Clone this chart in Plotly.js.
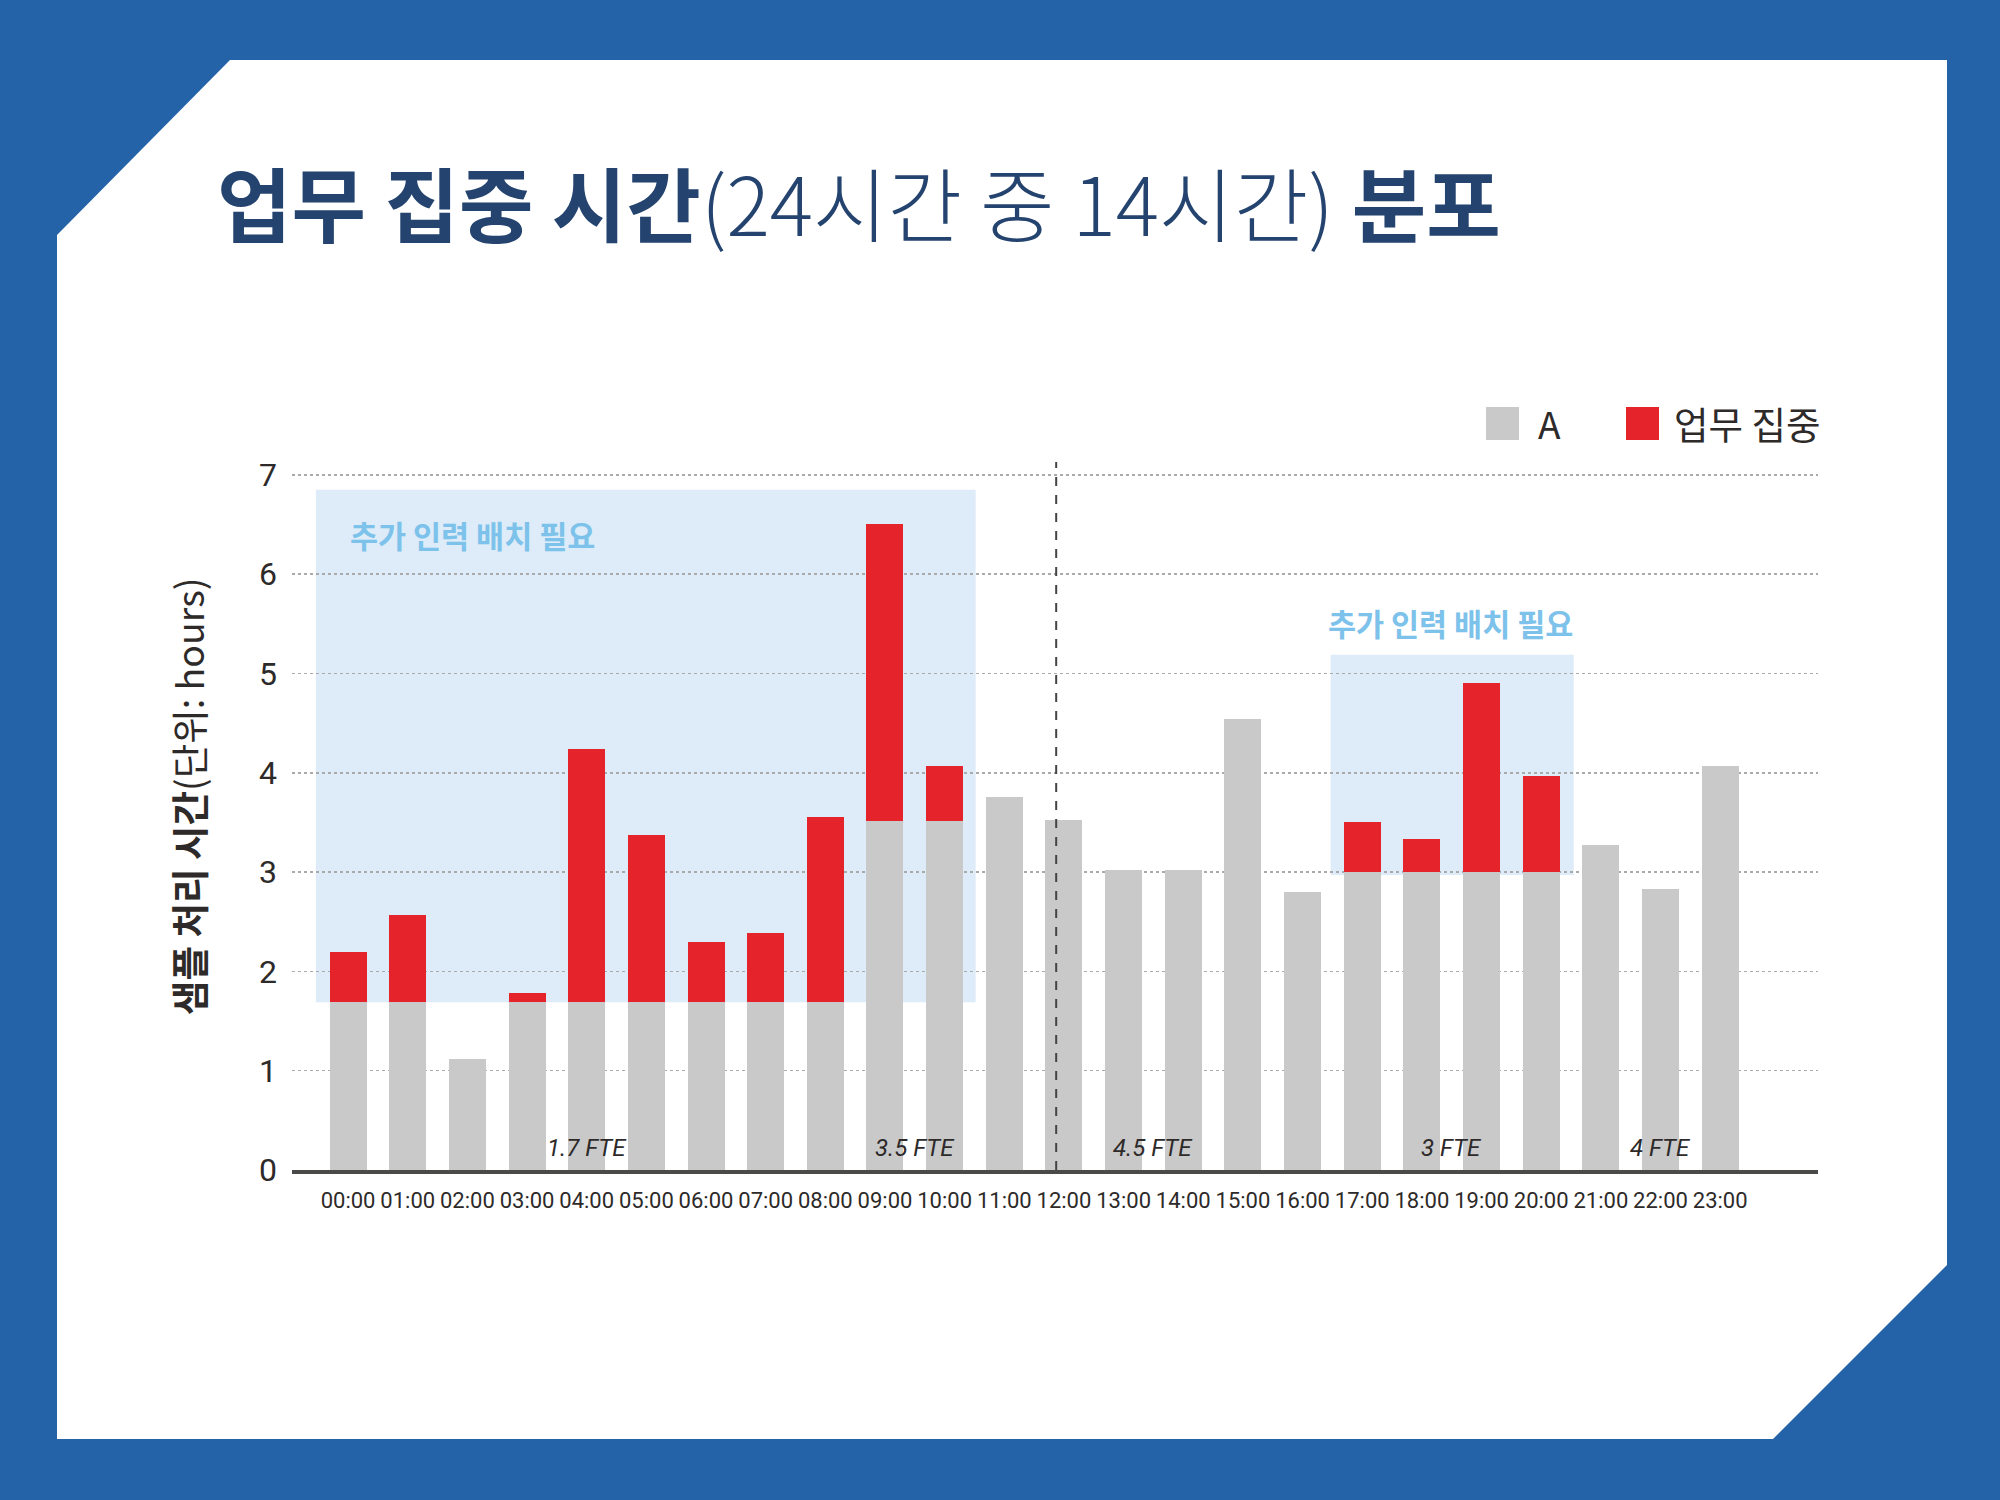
<!DOCTYPE html>
<html>
<head>
<meta charset="utf-8">
<script src="https://cdn.plot.ly/plotly-3.0.1.min.js"></script>
<style>
  html, body { margin: 0; padding: 0; background: #2563a8; width: 2000px; height: 1500px; overflow: hidden; }
  #panel { position: absolute; left: 0; top: 0; width: 2000px; height: 1500px; background: #ffffff;
    clip-path: polygon(230px 60px, 1947px 60px, 1947px 1265px, 1773px 1439px, 57px 1439px, 57px 235px); }
  #chart { position: absolute; left: 0; top: 0; width: 2000px; height: 1500px; }
</style>
</head>
<body>
<div id="panel"></div>
<div id="chart"></div>
<script>
// ---- data ----
const hours = ['00:00','01:00','02:00','03:00','04:00','05:00','06:00','07:00','08:00','09:00','10:00','11:00',
               '12:00','13:00','14:00','15:00','16:00','17:00','18:00','19:00','20:00','21:00','22:00','23:00'];
const seriesA = [1.69, 1.69, 1.12, 1.69, 1.69, 1.69, 1.69, 1.69, 1.69, 3.51, 3.51, 3.76,
                 3.52, 3.02, 3.02, 4.54, 2.80, 3.00, 3.00, 3.00, 3.00, 3.27, 2.83, 4.07];
const seriesFocus = [0.51, 0.88, 0, 0.09, 2.55, 1.68, 0.61, 0.70, 1.86, 3.00, 0.56, 0,
                     0, 0, 0, 0, 0, 0.50, 0.33, 1.90, 0.97, 0, 0, 0];
const seriesNames = ['A', '업무 집중'];
const fteLabels = ['1.7 FTE', '3.5 FTE', '4.5 FTE', '3 FTE', '4 FTE'];
const fteStart = [0, 9, 11, 17, 21];
const fteEnd = [8, 10, 16, 20, 23];
const yTicks = [0, 1, 2, 3, 4, 5, 6, 7];
const noteText = '추가 인력 배치 필요';

// ---- chart ----
const xIdx = hours.map((h, i) => i);
const narrow = 'Roboto, "Noto Sans", sans-serif';
const kr = '"Noto Sans CJK KR", "Noto Sans", sans-serif';
const grayC = '#c9c9c9', redC = '#e4232b', blueTxt = '#7cc2ea', boxC = '#ddecf8', dark = '#2d2a29';

const traces = [
  { type: 'bar', x: xIdx, y: seriesA, name: seriesNames[0], marker: { color: grayC }, showlegend: false, hoverinfo: 'y' },
  { type: 'bar', x: xIdx, y: seriesFocus, name: seriesNames[1], marker: { color: redC }, showlegend: false, hoverinfo: 'y' }
];

const L = 292, R = 1818, T = 462, B = 1170;
const px = v => (v - L) / (R - L);
const py = v => (B - v) / (B - T);

const annotations = [];
fteLabels.forEach((t, i) => {
  annotations.push({ x: (fteStart[i] + fteEnd[i]) / 2, y: 0.22, xref: 'x', yref: 'y', text: '<i>' + t + '</i>',
    showarrow: false, font: { family: narrow, size: 24, color: dark }, xanchor: 'center', yanchor: 'middle' });
});
annotations.push({ x: 0.0, y: 6.39, xref: 'x', yref: 'y', text: '<b>' + noteText + '</b>', showarrow: false,
  font: { family: kr, size: 30.5, color: blueTxt }, xanchor: 'left', yanchor: 'middle' });
annotations.push({ x: 16.4, y: 5.51, xref: 'x', yref: 'y', text: '<b>' + noteText + '</b>', showarrow: false,
  font: { family: kr, size: 30.5, color: blueTxt }, xanchor: 'left', yanchor: 'middle' });
// y axis title
annotations.push({ x: px(187), y: py(797), xref: 'paper', yref: 'paper', textangle: -90,
  text: '<b>샘플 처리 시간</b>(단위: hours)', showarrow: false,
  font: { family: kr, size: 37.5, color: dark }, xanchor: 'center', yanchor: 'middle' });
// legend
annotations.push({ x: px(1536), y: py(423), xref: 'paper', yref: 'paper', text: seriesNames[0], showarrow: false,
  font: { family: kr, size: 37, color: dark }, xanchor: 'left', yanchor: 'middle' });
annotations.push({ x: px(1672), y: py(423), xref: 'paper', yref: 'paper', text: seriesNames[1], showarrow: false,
  font: { family: kr, size: 37.5, color: dark }, xanchor: 'left', yanchor: 'middle' });

const shapes = [
  { type: 'rect', xref: 'x', yref: 'y', x0: -0.54, x1: 10.52, y0: 1.69, y1: 6.85, fillcolor: boxC, line: { width: 0 }, layer: 'below' },
  { type: 'rect', xref: 'x', yref: 'y', x0: 16.47, x1: 20.545, y0: 2.97, y1: 5.19, fillcolor: boxC, line: { width: 0 }, layer: 'below' },
  { type: 'line', xref: 'x', yref: 'paper', x0: 11.87, x1: 11.87, y0: 0, y1: 1, line: { color: '#444', width: 2, dash: 'dash' }, layer: 'above' },
  { type: 'rect', xref: 'paper', yref: 'paper', x0: px(1486), x1: px(1519), y0: py(440), y1: py(407), fillcolor: grayC, line: { width: 0 } },
  { type: 'rect', xref: 'paper', yref: 'paper', x0: px(1626), x1: px(1659), y0: py(440), y1: py(407), fillcolor: redC, line: { width: 0 } }
];

const layout = {
  width: 2000, height: 1500,
  paper_bgcolor: 'rgba(0,0,0,0)', plot_bgcolor: 'rgba(0,0,0,0)',
  margin: { l: L, r: 2000 - R, t: T, b: 1500 - B, pad: 0 },
  barmode: 'stack', bargap: 0.38,
  showlegend: false,
  title: {
    text: '<b>업무 집중 시간</b><span style="font-weight:300">(24시간 중 14시간)</span> <b>분포</b>',
    x: 217 / 2000, xref: 'container', xanchor: 'left',
    y: 1 - 208 / 1500, yref: 'container', yanchor: 'middle',
    font: { family: kr, size: 81, color: '#24446f' }
  },
  xaxis: {
    range: [-0.94, 24.64], tickvals: xIdx, ticktext: hours, showgrid: false, zeroline: false,
    showline: true, linecolor: '#4a4a48', linewidth: 4, ticks: '', ticklabelstandoff: 8, tickangle: 0,
    tickfont: { family: narrow, size: 22, color: dark }, fixedrange: true
  },
  yaxis: {
    range: [0, 7.13], tickvals: yTicks, ticktext: yTicks.map(String), showgrid: true, gridcolor: '#aaaaaa',
    gridwidth: 1.5, griddash: 'dot', zeroline: false, showline: false, ticks: '', ticklabelstandoff: 14,
    tickfont: { family: narrow, size: 32, color: dark }, fixedrange: true
  },
  annotations: annotations,
  shapes: shapes
};

Plotly.newPlot('chart', traces, layout, { staticPlot: true, displayModeBar: false });
</script>
</body>
</html>
